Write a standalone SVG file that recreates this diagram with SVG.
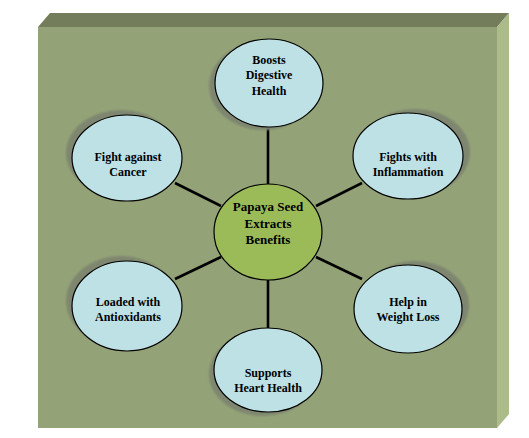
<svg xmlns="http://www.w3.org/2000/svg" width="529" height="438" viewBox="0 0 529 438">
<defs>
<filter id="blur" x="-20%" y="-20%" width="140%" height="140%"><feGaussianBlur stdDeviation="1.2"/></filter>
</defs>
<style>
.face-front{fill:#94A377}
.face-top{fill:#737D5B}
.face-right{fill:#ABBB8A}
.shadow{fill:#7E8670;filter:url(#blur)}
.node{fill:#BDE1E5;stroke:#000;stroke-width:1.2}
.hub{fill:#9BBB59;stroke:#000;stroke-width:1.2}
.conn{stroke:#000;stroke-width:2.6;fill:none;stroke-linecap:butt}
.lbl{font-family:"Liberation Serif","Times New Roman",serif;font-weight:bold;font-size:12px;fill:#000;text-anchor:middle;dominant-baseline:central}
.hub-lbl{font-size:13px}
</style>
<rect width="529" height="438" fill="#fff"/>
<g id="box">
<polygon class="face-top" points="38,27 50,13 509,13 497,27"/>
<polygon class="face-right" points="497,27 509,13 509,414 497,428"/>
<rect class="face-front" x="38" y="27" width="459" height="401"/>
</g>
<g id="connectors">
<line class="conn" x1="268" y1="126" x2="268" y2="184"/>
<line class="conn" x1="268" y1="280" x2="268" y2="328"/>
<line class="conn" x1="175" y1="183" x2="221" y2="206"/>
<line class="conn" x1="175" y1="279" x2="221" y2="257"/>
<line class="conn" x1="316" y1="206" x2="362" y2="183"/>
<line class="conn" x1="316" y1="257" x2="362" y2="279"/>
</g>
<g id="node-digestive">
<ellipse class="shadow" cx="263" cy="86" rx="54" ry="44"/>
<ellipse class="node" cx="269" cy="83" rx="54" ry="44"/>
<text class="lbl" x="269" y="60">Boosts</text>
<text class="lbl" x="269" y="75">Digestive</text>
<text class="lbl" x="269" y="91">Health</text>
</g>
<g id="node-cancer">
<ellipse class="shadow" cx="121" cy="153" rx="55" ry="43"/>
<ellipse class="node" cx="127" cy="158" rx="55" ry="43"/>
<text class="lbl" x="128" y="157">Fight against</text>
<text class="lbl" x="128" y="172">Cancer</text>
</g>
<g id="node-inflammation">
<ellipse class="shadow" cx="415" cy="152" rx="55" ry="43"/>
<ellipse class="node" cx="408" cy="156" rx="55" ry="43"/>
<text class="lbl" x="408" y="157">Fights with</text>
<text class="lbl" x="408" y="172">Inflammation</text>
</g>
<g id="node-antioxidants">
<ellipse class="shadow" cx="121" cy="301" rx="55" ry="45"/>
<ellipse class="node" cx="127" cy="306" rx="55" ry="45"/>
<text class="lbl" x="128" y="302">Loaded with</text>
<text class="lbl" x="128" y="317">Antioxidants</text>
</g>
<g id="node-weight">
<ellipse class="shadow" cx="415" cy="305" rx="54" ry="44"/>
<ellipse class="node" cx="408" cy="309" rx="54" ry="44"/>
<text class="lbl" x="408" y="302">Help in</text>
<text class="lbl" x="408" y="317">Weight Loss</text>
</g>
<g id="node-heart">
<ellipse class="shadow" cx="263" cy="374" rx="54" ry="42"/>
<ellipse class="node" cx="268" cy="370" rx="54" ry="42"/>
<text class="lbl" x="268" y="373">Supports</text>
<text class="lbl" x="268" y="388">Heart Health</text>
</g>
<g id="node-center">
<ellipse class="hub" cx="268" cy="232" rx="54" ry="48"/>
<text class="lbl hub-lbl" x="268" y="206">Papaya Seed</text>
<text class="lbl hub-lbl" x="268" y="223">Extracts</text>
<text class="lbl hub-lbl" x="268" y="239">Benefits</text>
</g>
</svg>
